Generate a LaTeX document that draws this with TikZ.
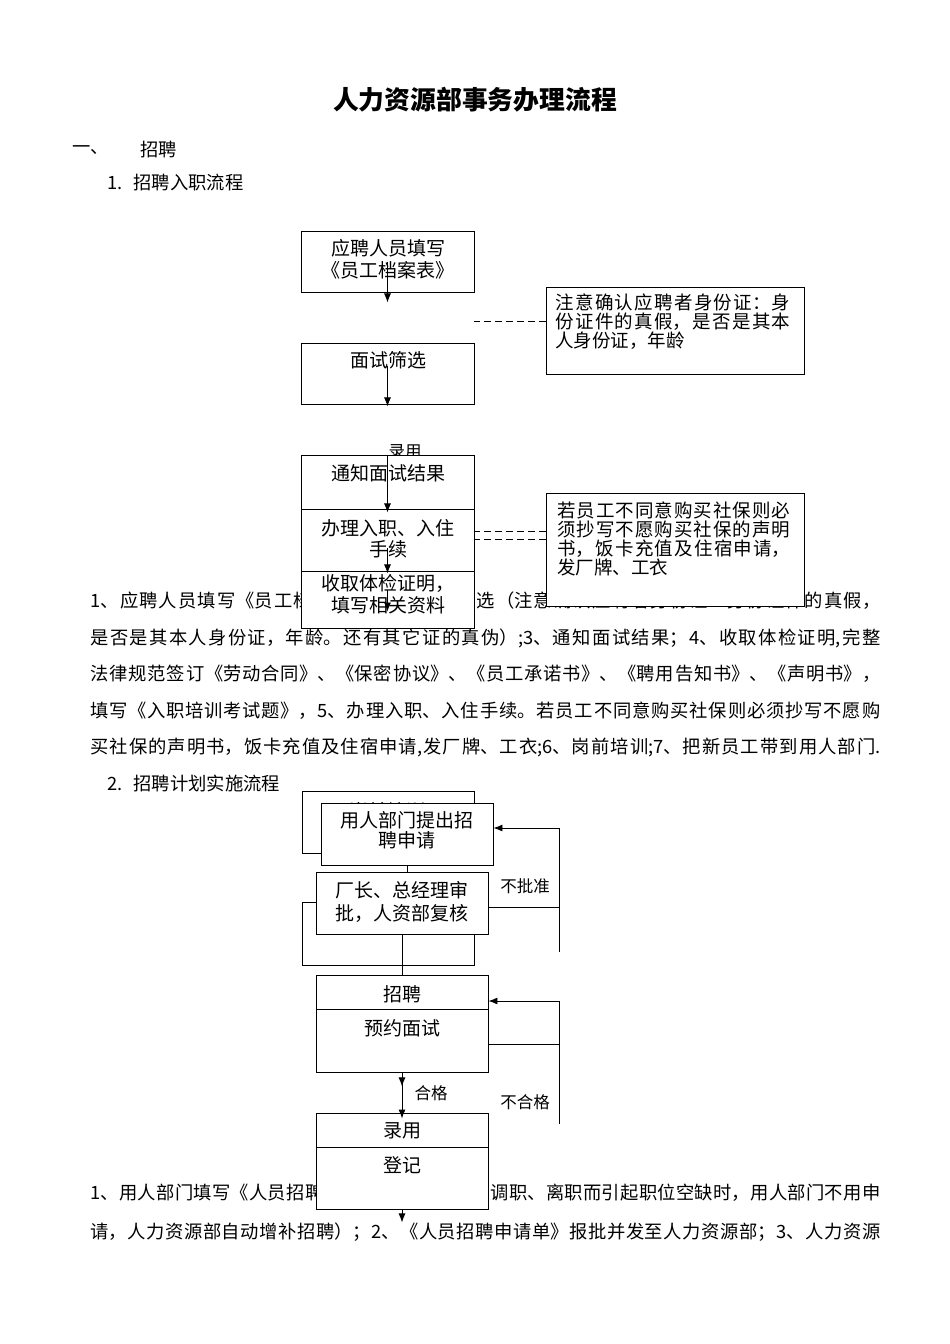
\documentclass[tikz,border=0pt]{standalone}
\usepackage{fontspec}
\setmainfont{Noto Sans CJK SC}
\usetikzlibrary{arrows.meta}
\XeTeXlinebreaklocale "zh"
\XeTeXlinebreakskip=0pt plus 4pt minus 0.2pt
\newcommand{\fullline}[2]{\parbox[b]{#1}{\parfillskip=0pt\relax #2}}

\begin{document}
\begin{tikzpicture}[x=1pt,y=-1pt,line width=0.9pt,
  box/.style={draw,fill=white,inner sep=0pt,minimum width=173pt},
  txt/.style={inner sep=0pt,align=center,font=\fontsize{19pt}{21pt}\selectfont},
  body/.style={inner sep=0pt,anchor=west,font=\fontsize{18.3pt}{22pt}\selectfont},
  note/.style={inner sep=0pt,anchor=north west,align=left,font=\fontsize{18.5pt}{19pt}\selectfont},
  small/.style={inner sep=0pt,font=\fontsize{16.5pt}{18pt}\selectfont},
  arr/.style={-{Latex[length=9pt,width=7pt]}},
  dashline/.style={dash pattern=on 7pt off 4pt}]
            \fill [white] (0,0) rectangle (950,1344);
            \useasboundingbox (0,0) rectangle (950,1344);
            % headings
            \node [inner sep=0pt,font=\fontsize{25.8pt}{28pt}\selectfont\bfseries] (title) at (475,100) {人力资源部事务办理流程};
            \node [body] (sec) at (72,150) {一、};
            \node [body] (secname) at (140,150) {招聘};
            \node [body] (sub1) at (107,183) {1.\hspace{11pt}招聘入职流程};
            \node [body] (sub2) at (107,783) {2.\hspace{11pt}招聘计划实施流程};
            % text under the charts
            \node [body] (p1) at (90,601) {\fullline{790pt}{1、应聘人员填写《员工档案表》；2、面试筛选（注意确认应聘者身份证：身份证件的真假，}};
            \node [body] (p2) at (90,638) {\fullline{790pt}{是否是其本人身份证，年龄。还有其它证的真伪）;3、通知面试结果；4、收取体检证明,完整}};
            \node [body] (p3) at (90,674) {\fullline{790pt}{法律规范签订《劳动合同》、《保密协议》、《员工承诺书》、《聘用告知书》、《声明书》，}};
            \node [body] (p4) at (90,711) {\fullline{790pt}{填写《入职培训考试题》，5、办理入职、入住手续。若员工不同意购买社保则必须抄写不愿购}};
            \node [body] (p5) at (90,747) {\fullline{790pt}{买社保的声明书，饭卡充值及住宿申请,发厂牌、工衣;6、岗前培训;7、把新员工带到用人部门.}};
            \node [body] (q1) at (90,1193) {\fullline{790pt}{1、用人部门填写《人员招聘申请单》（如因员工调职、离职而引起职位空缺时，用人部门不用申}};
            \node [body] (q2) at (90,1232) {\fullline{790pt}{请，人力资源部自动增补招聘）；2、《人员招聘申请单》报批并发至人力资源部；3、人力资源}};
            % chart 1
            \node [small] (hired1) at (405,452) {录用};
            \node [box,minimum height=61pt] (apply) at (387.5,261.5) {};
            \node [txt,font=\fontsize{19pt}{22pt}\selectfont] (applytxt) at (388,259) {应聘人员填写\\《员工档案表》};
            \node [box,minimum height=61pt] (screen) at (387.5,373.5) {};
            \node [txt] (screentxt) at (388,360) {面试筛选};
            \node [box,minimum height=55pt] (notify) at (387.5,482.5) {};
            \node [txt] (notifytxt) at (388,473) {通知面试结果};
            \node [box,minimum height=62pt] (entry) at (387.5,540) {};
            \node [txt] (entrytxt) at (388,538.5) {办理入职、入住\\手续};
            \node [box,minimum height=57pt] (exam) at (387.5,599.5) {};
            \node [txt,font=\fontsize{19pt}{22pt}\selectfont] (examtxt) at (388,594) {收取体检证明，\\填写相关资料};
            \draw [arr] (apply.center) -- ([yshift=-10pt]apply.south);
            \draw [arr] ([yshift=8pt]screen.center) -- ([yshift=-2pt]screen.south);
            \draw [arr] (notify.north) -- ([yshift=-2pt]notify.south);
            \draw [arr] ([yshift=-8pt]entry.center) -- ([yshift=-2pt]entry.south);
            \draw [arr] ([yshift=10pt]exam.center) -- ([yshift=-12pt]exam.center);
            \node [box,minimum width=258pt,minimum height=87pt] (note1) at (675,330.5) {};
            \node [note] (note1txt) at (555,293) {\fullline{235pt}{注意确认应聘者身份证：身}\\\fullline{235pt}{份证件的真假，是否是其本}\\人身份证，年龄};
            \node [box,minimum width=258pt,minimum height=113pt] (note2) at (675,549.5) {};
            \node [note] (note2txt) at (557,501) {\fullline{233pt}{若员工不同意购买社保则必}\\\fullline{233pt}{须抄写不愿购买社保的声明}\\\fullline{233pt}{书，饭卡充值及住宿申请，}\\发厂牌、工衣};
            \coordinate (n1a) at ([yshift=9.5pt]note1.west);
            \coordinate (n2a) at ([yshift=18.5pt]note2.west);
            \coordinate (n2b) at ([yshift=10.5pt]note2.west);
            \draw [dashline] (n1a) -- (n1a -| apply.east);
            \draw [dashline] (n2a) -- (n2a -| entry.east);
            \draw [dashline] (n2b) -- (n2b -| entry.east);
            % chart 2
            \node [box,minimum width=172pt,minimum height=62pt] (back1) at (388,822) {};
            \node [txt] (back1txt) at (387,811) {岗前培训};
            \node [box,minimum width=172pt,minimum height=62pt] (request) at (407,834) {};
            \node [txt,font=\fontsize{19pt}{20pt}\selectfont] (requesttxt) at (407,830) {用人部门提出招\\聘申请};
            \node [box,minimum width=172pt,minimum height=63pt] (back2) at (388,933.5) {};
            \node [box,minimum width=172pt,minimum height=62pt] (approve) at (402,903) {};
            \node [txt,font=\fontsize{19pt}{23pt}\selectfont] (approvetxt) at (402,901.5) {厂长、总经理审\\批，人资部复核};
            \draw (request.south) -- (request.south |- approve.north);
            \node [box,minimum width=172pt,minimum height=97pt] (recruit) at (402,1023.5) {};
            \draw ([yshift=-35pt]recruit.north west) -- ([yshift=-35pt]recruit.north east);
            \node [txt] (recruittxt) at (402,994) {招聘};
            \node [txt] (interviewtxt) at (402,1028) {预约面试};
            \draw (approve.south) -- (recruit.north);
            \node [box,minimum width=172pt,minimum height=96pt] (hire) at (402,1161) {};
            \draw ([yshift=-35pt]hire.north west) -- ([yshift=-35pt]hire.north east);
            \node [txt] (hiretxt) at (402,1131) {录用};
            \node [txt] (registertxt) at (402,1165) {登记};
            \coordinate (nogo1) at (559,952);
            \coordinate (approut) at ([yshift=-4pt]approve.east);
            \draw (approut) -- (approut -| nogo1);
            \draw [arr] (nogo1) |- ([yshift=6pt]request.east);
            \node [small] (nogotxt) at (525,886) {不批准};
            \coordinate (nogo2) at (559,1124);
            \coordinate (recrout) at ([yshift=-20.5pt]recruit.east);
            \draw (recrout) -- (recrout -| nogo2);
            \draw [arr] (nogo2) |- ([yshift=22.5pt]recruit.east);
            \node [small] (failtxt) at (525,1102) {不合格};
            \draw [arr] (recruit.south) -- ([yshift=-14pt]recruit.south);
            \draw [arr] (recruit.south) -- ([yshift=-6pt]hire.north);
            \node [small] (passtxt) at (431,1093) {合格};
            \draw [arr] (hire.south) -- ([yshift=-13pt]hire.south);
        \end{tikzpicture}
\end{document}
